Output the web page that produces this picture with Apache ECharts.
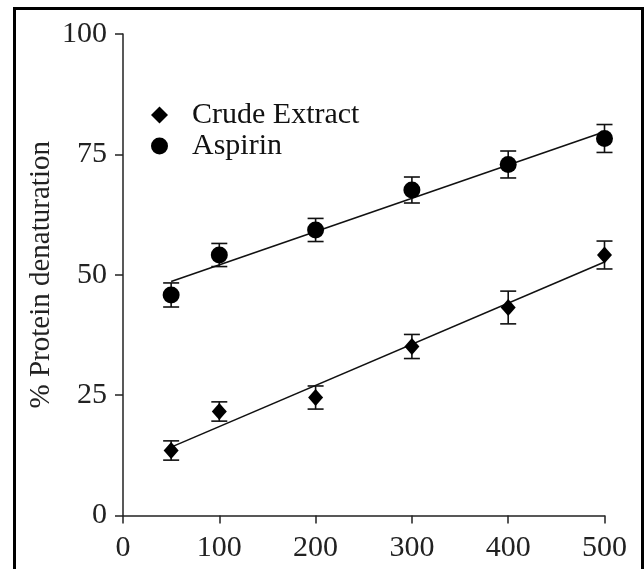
<!DOCTYPE html>
<html>
<head>
<meta charset="utf-8">
<script src="https://cdn.jsdelivr.net/npm/echarts@6/dist/echarts.min.js"></script>
<style>
html,body{margin:0;padding:0;background:#fff;}
#chart{width:644px;height:569px;}
</style>
</head>
<body>
<div id="chart"></div>
<script>
const concentrations = [50, 100, 200, 300, 400, 500];
const crudeMean = [13.5, 21.6, 24.5, 35.1, 43.2, 54.1];
const crudeErr = [2.0, 2.0, 2.4, 2.5, 3.4, 2.9];
const aspirinMean = [45.8, 54.1, 59.3, 67.6, 72.9, 78.3];
const aspirinErr = [2.5, 2.4, 2.4, 2.7, 2.8, 2.9];
const xTicks = [0, 100, 200, 300, 400, 500];
const yTicks = [0, 25, 50, 75, 100];
const seriesNames = ['Crude Extract', 'Aspirin'];
const yAxisTitle = '% Protein denaturation';

const FONT = 'Liberation Serif';

function fitLine(xs, ys) {
  const n = xs.length;
  const mx = xs.reduce((a, b) => a + b, 0) / n;
  const my = ys.reduce((a, b) => a + b, 0) / n;
  let sxy = 0, sxx = 0;
  for (let i = 0; i < n; i++) { sxy += (xs[i] - mx) * (ys[i] - my); sxx += (xs[i] - mx) * (xs[i] - mx); }
  const slope = sxy / sxx, icpt = my - slope * mx;
  const x0 = xs[0], x1 = xs[n - 1];
  return [[x0, icpt + slope * x0], [x1, icpt + slope * x1]];
}

function errData(means, errs) {
  return concentrations.map((x, i) => [x, means[i] - errs[i], means[i] + errs[i]]);
}

function errorRender(params, api) {
  const x = api.value(0);
  const lo = api.coord([x, api.value(1)]);
  const hi = api.coord([x, api.value(2)]);
  const hw = 8;
  const style = { stroke: '#111', lineWidth: 1.6, fill: null };
  return {
    type: 'group',
    children: [
      { type: 'line', shape: { x1: lo[0], y1: lo[1], x2: hi[0], y2: hi[1] }, style },
      { type: 'line', shape: { x1: lo[0] - hw, y1: lo[1], x2: lo[0] + hw, y2: lo[1] }, style },
      { type: 'line', shape: { x1: hi[0] - hw, y1: hi[1], x2: hi[0] + hw, y2: hi[1] }, style }
    ]
  };
}

const chart = echarts.init(document.getElementById('chart'), null, { renderer: 'canvas' });
const axisLineStyle = { color: '#222', width: 1.5 };

chart.setOption({
  backgroundColor: '#fff',
  animation: false,
  textStyle: { fontFamily: FONT },
  grid: { left: 123, right: 39.5, top: 34, bottom: 53.5, containLabel: false },
  legend: {
    left: 146, top: 95, orient: 'vertical', itemGap: 1,
    itemWidth: 17, itemHeight: 17,
    itemStyle: { opacity: 1, color: '#000' },
    textStyle: { fontFamily: FONT, fontSize: 30, color: '#111', padding: [0, 0, 0, 19] },
    data: [
      { name: seriesNames[0], icon: 'path://M8,0 L16,8 L8,16 L0,8 Z' },
      { name: seriesNames[1], icon: 'circle' }
    ]
  },
  xAxis: {
    type: 'value', min: xTicks[0], max: xTicks[xTicks.length - 1], interval: 100,
    axisLine: { show: true, lineStyle: axisLineStyle },
    axisTick: { show: true, length: 8, lineStyle: axisLineStyle },
    axisLabel: { fontFamily: FONT, fontSize: 30, color: '#222', margin: 18 },
    splitLine: { show: false }
  },
  yAxis: {
    type: 'value', min: yTicks[0], max: yTicks[yTicks.length - 1], interval: 25,
    name: yAxisTitle, nameLocation: 'middle', nameGap: 67, nameMoveOverlap: false,
    nameTextStyle: { fontFamily: FONT, fontSize: 29, color: '#222' },
    axisLine: { show: true, lineStyle: axisLineStyle },
    axisTick: { show: true, length: 8, lineStyle: axisLineStyle },
    axisLabel: { fontFamily: FONT, fontSize: 30, color: '#222', margin: 16 },
    splitLine: { show: false }
  },
  graphic: [{
    type: 'rect', left: 12, top: 6, z: 100, silent: true,
    shape: { width: 628, height: 620 },
    style: { fill: null, stroke: '#000', lineWidth: 3 }
  }],
  series: [
    { type: 'line', data: fitLine(concentrations, crudeMean), symbol: 'none',
      lineStyle: { color: '#111', width: 1.6 }, silent: true, z: 2 },
    { type: 'line', data: fitLine(concentrations, aspirinMean), symbol: 'none',
      lineStyle: { color: '#111', width: 1.6 }, silent: true, z: 2 },
    { type: 'custom', data: errData(crudeMean, crudeErr), renderItem: errorRender, z: 3 },
    { type: 'custom', data: errData(aspirinMean, aspirinErr), renderItem: errorRender, z: 3 },
    { name: seriesNames[0], type: 'scatter', symbol: 'diamond', symbolSize: [15, 17],
      data: concentrations.map((x, i) => [x, crudeMean[i]]), itemStyle: { color: '#000', opacity: 1 }, z: 4 },
    { name: seriesNames[1], type: 'scatter', symbol: 'circle', symbolSize: 17,
      data: concentrations.map((x, i) => [x, aspirinMean[i]]), itemStyle: { color: '#000', opacity: 1 }, z: 4 }
  ]
});
</script>
</body>
</html>
